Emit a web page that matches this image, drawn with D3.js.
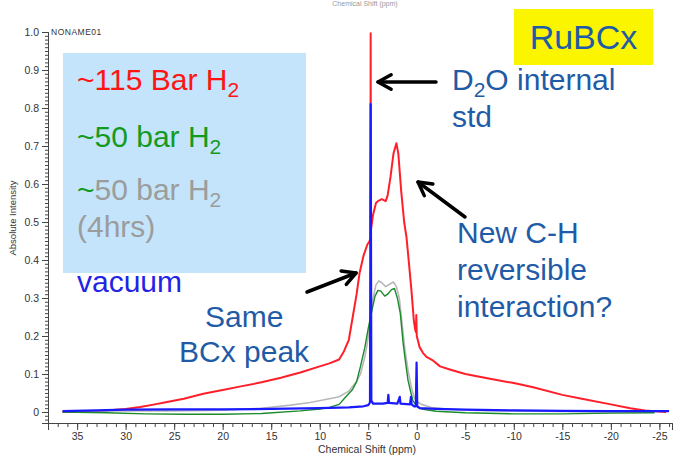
<!DOCTYPE html>
<html>
<head>
<meta charset="utf-8">
<script src="https://cdn.jsdelivr.net/npm/d3@7"></script>
<style>
  body { margin: 0; background: #fff; }
  svg { display: block; font-family: "Liberation Sans", Arial, sans-serif; }
</style>
</head>
<body>
<div id="chart"></div>
<script>
// spectra (ppm, absolute intensity)
const redPpm = [36.5, 34, 32, 30, 28.5, 27, 26, 24, 22, 20, 18, 16, 14, 12, 10, 9, 8, 7.5, 7, 6.6, 6.2, 5.9, 5.5, 5.1, 4.85, 4.78, 4.75, 4.72, 4.5, 4.2, 4.0, 3.6, 3.2, 3.0, 2.7, 2.4, 2.1, 1.9, 1.6, 1.3, 1.06, 0.8, 0.55, 0.3, 0.15, 0.08, 0.05, 0.0, -0.3, -0.65, -1, -1.7, -2.4, -3.4, -5, -7, -10, -12, -15, -17, -20, -22, -23.5, -25.7];
const redInt = [0.0, 0.0, 0.004, 0.008, 0.013, 0.02, 0.025, 0.035, 0.048, 0.058, 0.068, 0.078, 0.09, 0.104, 0.12, 0.128, 0.138, 0.16, 0.19, 0.25, 0.31, 0.365, 0.41, 0.44, 0.45, 0.46, 0.997, 0.48, 0.52, 0.55, 0.555, 0.56, 0.555, 0.57, 0.62, 0.68, 0.707, 0.68, 0.58, 0.5, 0.46, 0.39, 0.32, 0.24, 0.215, 0.21, 0.255, 0.2, 0.17, 0.155, 0.145, 0.135, 0.12, 0.112, 0.1, 0.09, 0.076, 0.065, 0.045, 0.035, 0.02, 0.01, 0.004, 0.0];

const greenPpm = [36.5, 32, 28, 24, 20, 16, 12, 10, 9, 8, 7.3, 6.6, 6.2, 5.8, 5.35, 5.0, 4.6, 4.3, 4.0, 3.7, 3.3, 3.0, 2.6, 2.3, 2.0, 1.7, 1.4, 1.1, 0.9, 0.6, 0.4, 0.0, -0.5, -2, -5, -10, -15, -20, -24.5];
const greenInt = [0.0, -0.002, -0.005, -0.006, -0.006, -0.004, 0.003, 0.008, 0.012, 0.02, 0.04, 0.06, 0.08, 0.12, 0.17, 0.22, 0.27, 0.305, 0.32, 0.318, 0.305, 0.31, 0.322, 0.325, 0.3, 0.26, 0.18, 0.12, 0.083, 0.05, 0.03, 0.015, 0.008, 0.002, -0.002, -0.005, -0.005, -0.003, -0.002];

const grayPpm = [36.5, 30, 25, 20, 16, 13, 11, 9, 8, 7, 6.2, 5.8, 5.4, 5.1, 4.8, 4.5, 4.2, 3.9, 3.6, 3.2, 2.8, 2.4, 2.1, 1.8, 1.5, 1.2, 0.9, 0.6, 0.3, 0.0, -0.5, -1.5, -3, -6, -12, -20, -24.5];
const grayInt = [0.003, 0.003, 0.003, 0.005, 0.01, 0.018, 0.025, 0.035, 0.04, 0.055, 0.08, 0.1, 0.14, 0.18, 0.24, 0.3, 0.335, 0.345, 0.34, 0.33, 0.336, 0.342, 0.33, 0.3, 0.23, 0.16, 0.11, 0.07, 0.04, 0.028, 0.02, 0.012, 0.008, 0.004, 0.002, 0.0, 0.0];

const bluePpm = [36.5, 33, 30, 25, 20, 15, 10, 7, 5.5, 5.0, 4.82, 4.75, 4.68, 4.5, 3.5, 3.0, 2.93, 2.86, 2.0, 1.75, 1.68, 0.7, 0.6, 0.53, 0.3, 0.1, 0.02, -0.05, -0.3, -2, -5, -10, -15, -20, -26];
const blueInt = [0.002, 0.004, 0.006, 0.007, 0.007, 0.008, 0.01, 0.012, 0.015, 0.018, 0.025, 0.81, 0.03, 0.022, 0.022, 0.024, 0.045, 0.024, 0.022, 0.04, 0.022, 0.02, 0.04, 0.02, 0.015, 0.015, 0.13, 0.015, 0.01, 0.008, 0.006, 0.004, 0.003, 0.002, 0.002];

const xMajor = [35, 30, 25, 20, 15, 10, 5, 0, -5, -10, -15, -20, -25];
const yMajor = [0, 0.1, 0.2, 0.3, 0.4, 0.5, 0.6, 0.7, 0.8, 0.9, 1.0];
const yLabels = ["0", "0.1", "0.2", "0.3", "0.4", "0.5", "0.6", "0.7", "0.8", "0.9", "1.0"];

const width = 677, height = 458;
const svg = d3.select('#chart').append('svg')
    .attr('width', width)
    .attr('height', height);

const x = d3.scaleLinear().domain([38, -26.3]).range([48, 672]);
const y = d3.scaleLinear().domain([-0.029, 1.0]).range([423, 32]);

// blue legend box
svg.append('rect').attr('x', 63).attr('y', 53).attr('width', 243).attr('height', 220)
    .attr('fill', '#c3e4fa');

// yellow title box
svg.append('rect').attr('x', 514).attr('y', 9).attr('width', 139).attr('height', 56)
    .attr('fill', '#fbf600');
svg.append('text').attr('x', 583.5).attr('y', 49).attr('text-anchor', 'middle')
    .attr('font-size', 34).attr('fill', '#1f5ba6').text('RuBCx');

// faint top label (cut by the slide edge in the source)
svg.append('text').attr('x', 365).attr('y', 6).attr('text-anchor', 'middle')
    .attr('font-size', 7).attr('fill', '#999').text('Chemical Shift (ppm)');

// axes
const yAxis = svg.append('g').attr('transform', 'translate(48,0)');
yAxis.call(d3.axisLeft(y).tickValues(d3.range(-2, 101).map(d => d / 100)).tickSize(3).tickFormat(''));
yAxis.append('g').call(d3.axisLeft(y).tickValues(yMajor).tickSize(6)
    .tickFormat((d, i) => yLabels[i]));
yAxis.selectAll('.domain').attr('stroke', '#444');
yAxis.selectAll('line').attr('stroke', '#444');
yAxis.selectAll('text').attr('font-size', 10.5).attr('fill', '#333')
    .attr('font-family', '"Liberation Sans", Arial, sans-serif');

const xAxis = svg.append('g').attr('transform', 'translate(0,423)');
xAxis.call(d3.axisBottom(x).tickValues(d3.range(-26, 38)).tickSize(4).tickFormat(''));
xAxis.append('g').call(d3.axisBottom(x).tickValues(xMajor).tickSize(7).tickFormat(d => String(d)));
xAxis.selectAll('.domain').attr('stroke', '#444');
xAxis.selectAll('line').attr('stroke', '#444');
xAxis.selectAll('text').attr('font-size', 10.5).attr('fill', '#333')
    .attr('font-family', '"Liberation Sans", Arial, sans-serif');

svg.append('text').attr('x', 367).attr('y', 453).attr('text-anchor', 'middle')
    .attr('font-size', 10.5).attr('fill', '#333').text('Chemical Shift (ppm)');
svg.append('text').attr('transform', 'translate(16,218) rotate(-90)').attr('text-anchor', 'middle')
    .attr('font-size', 9.5).attr('fill', '#333').text('Absolute Intensity');
svg.append('text').attr('x', 51).attr('y', 35)
    .attr('font-size', 8.5).attr('letter-spacing', 0.5).attr('fill', '#333').text('NONAME01');

// spectra
const line = d3.line().x(d => x(d[0])).y(d => y(d[1]));
const series = [
    {ppm: redPpm, val: redInt, color: '#ff1f2a', w: 2},
    {ppm: grayPpm, val: grayInt, color: '#b8b8b8', w: 1.6},
    {ppm: greenPpm, val: greenInt, color: '#1a8a2a', w: 1.4},
    {ppm: bluePpm, val: blueInt, color: '#1a1aff', w: 2.2}
];
series.forEach(s => {
    svg.append('path')
        .datum(d3.zip(s.ppm, s.val))
        .attr('d', line)
        .attr('fill', 'none')
        .attr('stroke', s.color)
        .attr('stroke-width', s.w)
        .attr('stroke-linejoin', 'round');
});

// legend texts
const addH2 = (ty, parts) => {
    const t = svg.append('text').attr('x', 77).attr('y', ty).attr('font-size', 30);
    parts.forEach(p => {
        t.append('tspan').attr('fill', p.c).text(p.t);
    });
    const last = parts[parts.length - 1].c;
    t.append('tspan').attr('fill', last).attr('font-size', 21).attr('dy', 7).text('2');
};
addH2(90, [{t: '~115 Bar H', c: '#ff1414'}]);
addH2(147, [{t: '~50 bar H', c: '#169a1e'}]);
addH2(200, [{t: '~', c: '#169a1e'}, {t: '50 bar H', c: '#9c9c9c'}]);
svg.append('text').attr('x', 77).attr('y', 237).attr('font-size', 30).attr('fill', '#9c9c9c').text('(4hrs)');
svg.append('text').attr('x', 77).attr('y', 292).attr('font-size', 30).attr('fill', '#2323e6').text('vacuum');

// annotation texts
const blueTxt = '#1f5ba6';
const note = (tx, ty, s) => svg.append('text').attr('x', tx).attr('y', ty)
    .attr('font-size', 30).attr('fill', blueTxt).text(s);
const d2o = note(452, 90, 'D');
d2o.append('tspan').attr('font-size', 21).attr('dy', 7).text('2');
d2o.append('tspan').attr('dy', -7).text('O internal');
note(452, 127, 'std');
note(457, 243, 'New C-H');
note(457, 280, 'reversible');
note(457, 317, 'interaction?');
note(205, 327, 'Same');
note(179, 362, 'BCx peak');

// arrows
const arrow = (x1, y1, x2, y2) => {
    const a = Math.atan2(y1 - y2, x1 - x2);
    const L = 15, sp = 0.5;
    const g = svg.append('g').attr('stroke', '#000').attr('stroke-width', 3.5)
        .attr('fill', 'none').attr('stroke-linecap', 'round').attr('stroke-linejoin', 'round');
    g.append('line').attr('x1', x1).attr('y1', y1).attr('x2', x2).attr('y2', y2);
    g.append('polyline').attr('points', [
        [x2 + L * Math.cos(a + sp), y2 + L * Math.sin(a + sp)],
        [x2, y2],
        [x2 + L * Math.cos(a - sp), y2 + L * Math.sin(a - sp)]
    ].map(p => p.join(',')).join(' '));
};
arrow(436, 82, 378, 82);
arrow(465, 217, 418, 182);
arrow(307, 292, 356, 273);
</script>
</body>
</html>
